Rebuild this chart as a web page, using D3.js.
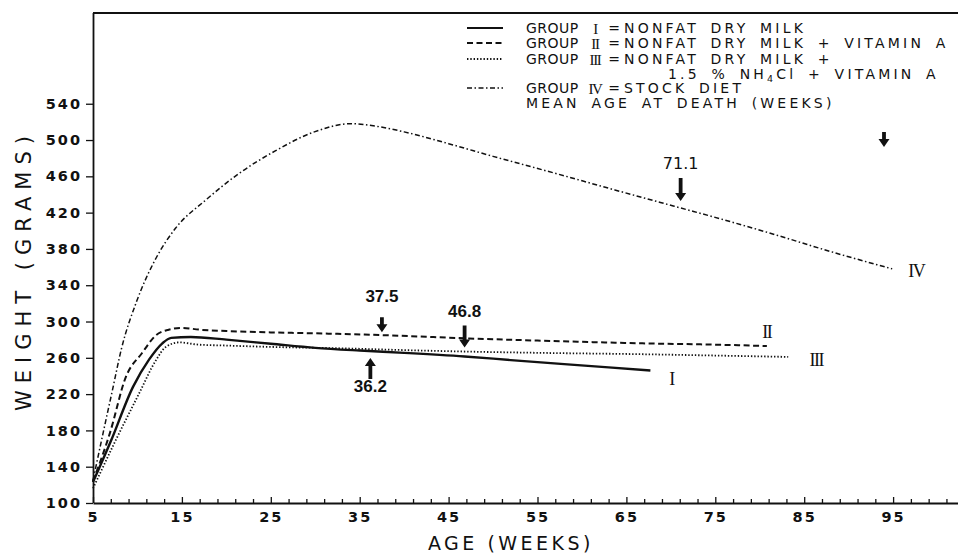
<!doctype html>
<html lang="en">
<head>
<meta charset="utf-8">
<title>Weight by age, four diet groups</title>
<style>
  * { margin: 0; padding: 0; }
  body { width: 958px; height: 555px; overflow: hidden; background: #fff; }
  svg { display: block; font-family: "DejaVu Sans", sans-serif; }
</style>
<script src="https://cdn.jsdelivr.net/npm/d3@7"></script>
</head>
<body>
<svg id="chart" width="958" height="555"></svg>
<script>
// values: age in weeks, weight in grams
const weeksI   = [5, 7, 9.5, 11.3, 12.8, 13.8, 16, 20, 25, 30, 35, 40, 46.8, 52, 58, 63, 67.7];
const gramsI   = [123, 168, 228, 258, 276, 282, 283, 280, 275.5, 271, 268, 265.5, 261.5, 257.5, 253, 249.5, 246];
const weeksII  = [5, 6.9, 8.7, 10.5, 12.1, 13.5, 15, 17, 20, 25, 30, 37.5, 46.8, 55, 66.5, 75, 80.8];
const gramsII  = [124, 177, 239, 265, 285, 291, 293, 291, 289.5, 288, 287, 285, 281.5, 279, 276, 274.5, 273];
const weeksIII = [5, 7.5, 10.2, 12, 13.2, 14.7, 16.9, 20, 25, 32.8, 40, 46.4, 55, 66.5, 75, 83.2];
const gramsIII = [116, 168, 221, 256, 272, 277, 274.5, 273.5, 272, 270.5, 268.5, 267, 265.5, 264, 262.5, 261];
const weeksIV  = [5, 6.2, 7.2, 8.2, 9.9, 12.1, 14.3, 17.7, 21.4, 25.5, 29.9, 34, 37, 40, 45, 50, 56, 63.7, 70.4, 76, 82.3, 88, 94.9];
const gramsIV  = [125, 180, 225, 270, 322, 370, 403, 434, 463, 488, 509, 518, 515, 509, 496, 482, 466, 445, 427, 412, 394, 377, 358];

const groupNames = ["I", "II", "III", "IV"];
const groupDiets = [
  ["NONFAT DRY MILK"],
  ["NONFAT DRY MILK + VITAMIN A"],
  ["NONFAT DRY MILK +", "1.5 % NH4Cl + VITAMIN A"],
  ["STOCK DIET"]
];
const legendNote = "MEAN AGE AT DEATH (WEEKS)";

// mean age at death (weeks), and the group curve each arrow sits on
const deathAges   = [36.2, 37.5, 46.8, 71.1];
const deathGroups = ["I", "II", "III", "IV"];
const deathLabels = ["36.2", "37.5", "46.8", "71.1"];

const xTicks = d3.range(5, 96, 10);
const xMinor = d3.range(5, 102, 2).filter(d => (d - 5) % 10 !== 0);
const yTicks = d3.range(100, 541, 40);

const svg = d3.select("#chart");

const x = d3.scaleLinear().domain([5, 102.3]).range([93, 958]);
const y = d3.scaleLinear().domain([100, 640]).range([503, 13]);

const series = {
  I:   d3.zip(weeksI, gramsI),
  II:  d3.zip(weeksII, gramsII),
  III: d3.zip(weeksIII, gramsIII),
  IV:  d3.zip(weeksIV, gramsIV)
};

const lineStyle = {
  I:   { width: 2.4, dash: null },
  II:  { width: 2,   dash: "6,3.5" },
  III: { width: 1.8, dash: "1.4,1.9" },
  IV:  { width: 1.5, dash: "5,2.5,1.5,2.5" }
};

// ---- axes ----
svg.append("line")
    .attr("x1", x(5)).attr("x2", 958)
    .attr("y1", 13).attr("y2", 13)
    .attr("stroke", "#111").attr("stroke-width", 1.8);

svg.append("g")
    .attr("transform", `translate(0,${y(100)})`)
    .call(d3.axisBottom(x).tickValues(xTicks).tickSize(-6).tickSizeOuter(0).tickPadding(9));
svg.append("g")
    .attr("transform", `translate(0,${y(100)})`)
    .call(d3.axisBottom(x).tickValues(xMinor).tickSize(-4).tickSizeOuter(0).tickFormat(""))
    .select(".domain").remove();

const gy = svg.append("g")
    .attr("transform", `translate(${x(5)},0)`)
    .call(d3.axisLeft(y).tickValues(yTicks).tickSize(7).tickSizeOuter(0).tickPadding(4));

svg.selectAll(".domain").attr("stroke", "#111").attr("stroke-width", 1.8);
svg.selectAll(".tick line").attr("stroke", "#111").attr("stroke-width", 1.3);
svg.selectAll(".tick text")
    .attr("font-family", "'DejaVu Sans', sans-serif")
    .attr("font-size", 14.5)
    .attr("font-weight", "bold")
    .attr("letter-spacing", 2)
    .attr("fill", "#111");
gy.select(".domain").attr("d", `M0.5,${y(100)}V13`);

svg.append("text")
    .attr("transform", `translate(31,270) rotate(-90)`)
    .attr("text-anchor", "middle")
    .attr("font-size", 21)
    .attr("letter-spacing", 7)
    .attr("fill", "#111")
    .text("WEIGHT (GRAMS)");

svg.append("text")
    .attr("x", 511).attr("y", 550)
    .attr("text-anchor", "middle")
    .attr("font-size", 19)
    .attr("letter-spacing", 3.5)
    .attr("fill", "#111")
    .text("AGE (WEEKS)");

// ---- curves ----
const line = d3.line()
    .x(d => x(d[0]))
    .y(d => y(d[1]))
    .curve(d3.curveMonotoneX);

groupNames.forEach(g => {
  svg.append("path")
      .datum(series[g])
      .attr("d", line)
      .attr("fill", "none")
      .attr("stroke", "#111")
      .attr("stroke-width", lineStyle[g].width)
      .attr("stroke-dasharray", lineStyle[g].dash);
});

// roman numeral at the end of each curve
const endOffset = { I: [21, 8], II: [0, -14], III: [28, 3], IV: [24, 2] };
groupNames.forEach(g => {
  const last = series[g][series[g].length - 1];
  svg.append("text")
      .attr("x", x(last[0]) + endOffset[g][0])
      .attr("y", y(last[1]) + endOffset[g][1] + 6)
      .attr("text-anchor", "middle")
      .attr("font-family", "'Liberation Serif', serif")
      .attr("font-size", 18)
      .attr("letter-spacing", -1.5)
      .attr("fill", "#111")
      .text(g);
});

// ---- mean age at death arrows ----
function valueAt(g, wk) {
  const pts = series[g];
  const i = d3.bisector(d => d[0]).left(pts, wk);
  if (i <= 0) return pts[0][1];
  const a = pts[i - 1], b = pts[i];
  return a[1] + (b[1] - a[1]) * (wk - a[0]) / (b[0] - a[0]);
}

function arrow(cx, tipY, dir, len) {
  // dir 1 = pointing down, -1 = pointing up
  const hw = 5.5, hh = 8, sw = 1.9;
  const baseY = tipY - dir * hh, tailY = tipY - dir * len;
  const p = d3.path();
  p.moveTo(cx, tipY);
  p.lineTo(cx - hw, baseY);
  p.lineTo(cx - sw, baseY);
  p.lineTo(cx - sw, tailY);
  p.lineTo(cx + sw, tailY);
  p.lineTo(cx + sw, baseY);
  p.lineTo(cx + hw, baseY);
  p.closePath();
  return p.toString();
}

const arrowLook = {
  I:   { dir: -1, gap: 7, len: 21, labelGap: 34, font: "'Liberation Sans', sans-serif", weight: "bold", size: 17 },
  II:  { dir: 1,  gap: 3, len: 15, labelGap: 30, font: "'Liberation Sans', sans-serif", weight: "bold", size: 17 },
  III: { dir: 1,  gap: 4, len: 22, labelGap: 31, font: "'Liberation Sans', sans-serif", weight: "bold", size: 17 },
  IV:  { dir: 1,  gap: 7, len: 23, labelGap: 32, font: "'DejaVu Sans', sans-serif", weight: "normal", size: 16 }
};

deathAges.forEach((age, i) => {
  const g = deathGroups[i], look = arrowLook[g];
  const cx = x(age);
  const lineY = y(valueAt(g, age));
  const tipY = lineY + (look.dir === 1 ? -look.gap : look.gap);
  svg.append("path")
      .attr("d", arrow(cx, tipY, look.dir, look.len))
      .attr("fill", "#111");
  svg.append("text")
      .attr("x", cx)
      .attr("y", tipY - look.dir * look.labelGap)
      .attr("text-anchor", "middle")
      .attr("font-family", look.font)
      .attr("font-weight", look.weight)
      .attr("font-size", look.size)
      .attr("fill", "#111")
      .text(deathLabels[i]);
});

// ---- legend ----
const legend = svg.append("g")
    .attr("fill", "#111")
    .attr("font-size", 14)
    .attr("letter-spacing", 3.2)
    .attr("word-spacing", 4);
const rowY = [28, 43, 59, 88];

groupNames.forEach((g, i) => {
  const ry = rowY[i];
  legend.append("line")
      .attr("x1", 467).attr("x2", 503)
      .attr("y1", ry).attr("y2", ry)
      .attr("stroke", "#111")
      .attr("stroke-width", g === "I" ? 2 : (g === "IV" ? 1.4 : 1.8))
      .attr("stroke-dasharray", lineStyle[g].dash);
  legend.append("text").attr("x", 526).attr("y", ry + 5).attr("letter-spacing", 0.5).text("GROUP");
  legend.append("text")
      .attr("x", 595).attr("y", ry + 5.5)
      .attr("text-anchor", "middle")
      .attr("font-family", "'Liberation Serif', serif")
      .attr("font-size", 15)
      .attr("letter-spacing", -1.3)
      .text(g);
  legend.append("text").attr("x", 614).attr("y", ry + 5).attr("text-anchor", "middle").attr("letter-spacing", 0).text("=");
  groupDiets[i].forEach((row, j) => {
    const t = legend.append("text")
        .attr("x", j === 0 ? 624 : 668)
        .attr("y", ry + 5 + j * 15);
    const m = row.match(/^(.*NH)4(Cl.*)$/);
    if (m) {
      t.append("tspan").text(m[1]);
      t.append("tspan").attr("font-size", 9.5).attr("dy", 3).text("4");
      t.append("tspan").attr("dy", -3).text(m[2]);
    } else {
      t.text(row);
    }
  });
});
legend.append("text").attr("x", 526).attr("y", 108).text(legendNote);
legend.append("path").attr("d", arrow(884, 147, 1, 15));
</script>
</body>
</html>
